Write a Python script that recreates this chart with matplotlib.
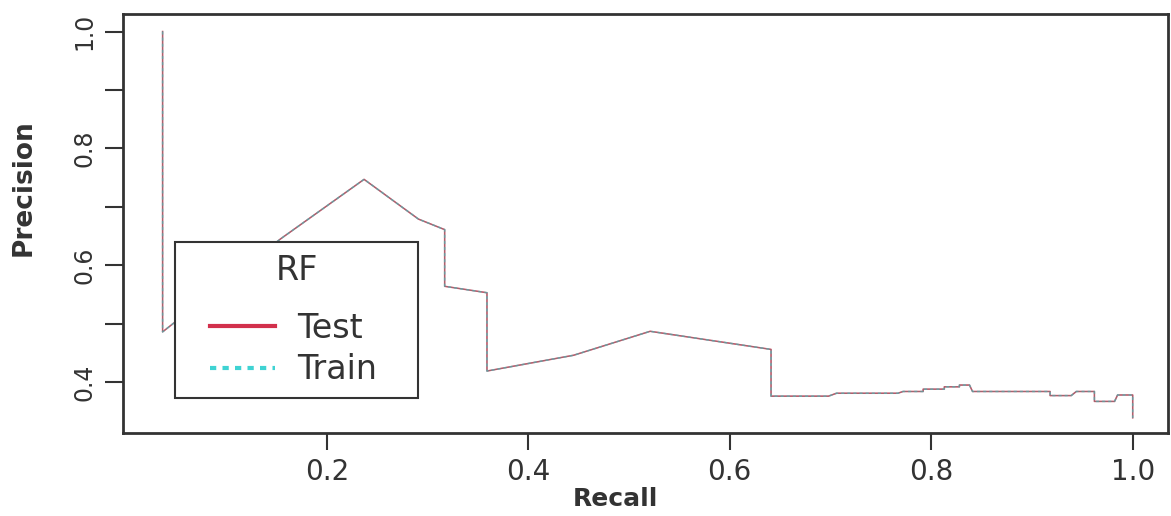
import matplotlib
matplotlib.use("Agg")
import matplotlib.pyplot as plt
from matplotlib.lines import Line2D
from matplotlib.legend_handler import HandlerLine2D

# precision-recall curve points
test_recall = [0.037, 0.037, 0.154, 0.237, 0.291, 0.317, 0.317, 0.359, 0.359,
               0.445, 0.521, 0.641, 0.641, 0.698, 0.706, 0.767, 0.772, 0.792,
               0.792, 0.813, 0.813, 0.828, 0.828, 0.838, 0.841, 0.918, 0.918,
               0.939, 0.944, 0.962, 0.962, 0.982, 0.985, 1.0, 1.0]
test_precision = [1.0, 0.486, 0.645, 0.747, 0.679, 0.661, 0.564, 0.553, 0.419,
                  0.446, 0.487, 0.456, 0.376, 0.376, 0.381, 0.381, 0.384, 0.384,
                  0.388, 0.388, 0.392, 0.392, 0.395, 0.395, 0.384, 0.384, 0.377,
                  0.377, 0.384, 0.384, 0.367, 0.367, 0.378, 0.378, 0.339]
# train curve lies exactly on top of the test one
train_recall = list(test_recall)
train_precision = list(test_precision)

xticks = [0.2, 0.4, 0.6, 0.8, 1.0]
yticks = [0.4, 0.5, 0.6, 0.7, 0.8, 0.9, 1.0]
ytick_labels = ["0.4", "", "0.6", "", "0.8", "", "1.0"]

test_color = "#d2304c"
train_color = "#3fd3d3"
ink = "#333333"

fig = plt.figure(figsize=(11.71, 5.16), dpi=100)
ax = fig.add_axes([0.1053, 0.1609, 0.8921, 0.812])

ax.plot(test_recall, test_precision, color=test_color, lw=1.1, alpha=0.85)
ax.plot(train_recall, train_precision, color=train_color, lw=1.1,
        linestyle=(0, (2, 2)), alpha=0.75)
# overlapping red + cyan reads greyish in the original
ax.plot(test_recall, test_precision, color="#777777", lw=0.8, alpha=0.5)

ax.set_xlim(-0.002, 1.035)
ax.set_ylim(0.313, 1.030)

ax.set_xticks(xticks)
ax.set_xticklabels([f"{t:.1f}" for t in xticks], fontsize=20, color=ink)
ax.set_yticks(yticks)
ax.set_yticklabels(ytick_labels, fontsize=17, rotation=90, va="center",
                   color=ink)
ax.tick_params(axis="x", length=12, width=1.5, pad=6, color=ink)
ax.tick_params(axis="y", length=13, width=1.5, pad=6, color=ink)

for s in ax.spines.values():
    s.set_linewidth(2)
    s.set_color(ink)

ax.set_xlabel("Recall", fontsize=18, fontweight="bold", color=ink)
ax.xaxis.set_label_coords(0.471, -0.13)
ax.set_ylabel("Precision", fontsize=19, fontweight="bold", color=ink)
ax.yaxis.set_label_coords(-0.083, 0.586)

handles = [Line2D([], [], color=test_color, lw=3),
           Line2D([], [], color=train_color, lw=3, linestyle=(0, (1.5, 1.5)))]
hmap = {h: HandlerLine2D(xpad=0.7) for h in handles}
leg = ax.legend(handles, ["Test", "Train"], title="RF", fontsize=24,
                title_fontsize=24, loc="lower left", mode="expand",
                bbox_to_anchor=(0.0495, 0.0835, 0.2326, 0.3),
                frameon=True, fancybox=False, handler_map=hmap,
                handlelength=2.65, handletextpad=0.66, borderpad=0.35,
                labelspacing=0.26, borderaxespad=0)
leg._legend_box.sep = 18  # extra gap between title and entries
leg.get_frame().set_edgecolor(ink)
leg.get_frame().set_linewidth(1.5)
leg.get_frame().set_alpha(1)
for t in leg.get_texts():
    t.set_color(ink)
leg.get_title().set_color(ink)

fig.savefig("out.png", dpi=100)
